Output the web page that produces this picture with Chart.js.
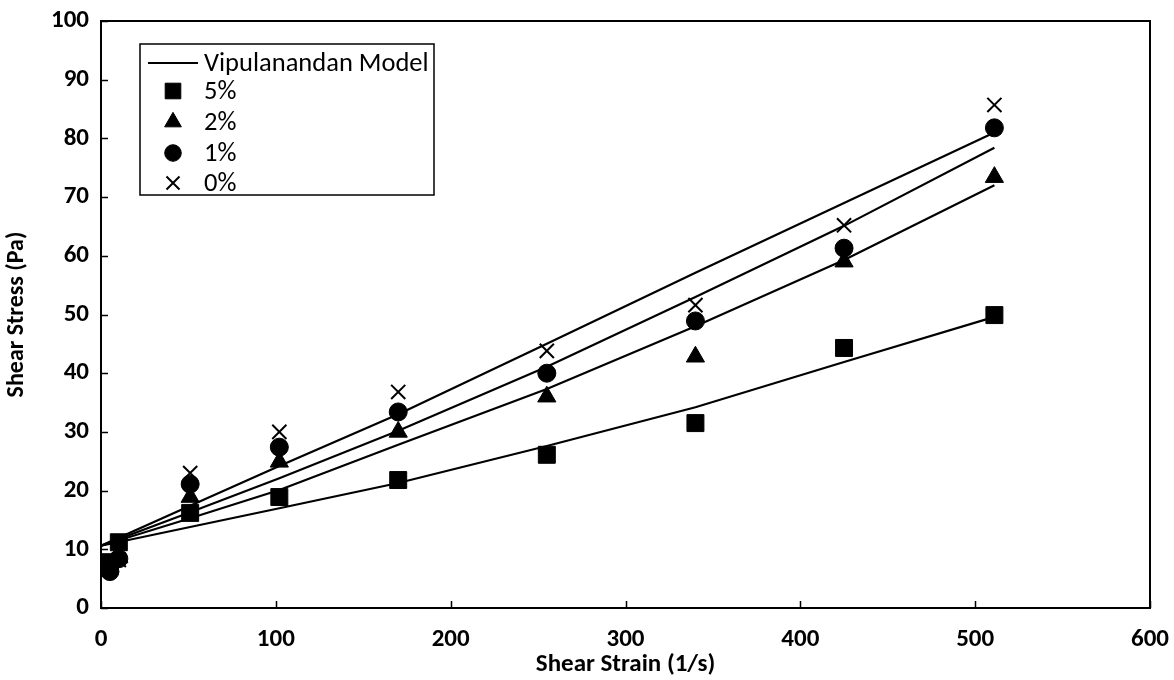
<!DOCTYPE html>
<html>
<head>
<meta charset="utf-8">
<script src="https://cdn.jsdelivr.net/npm/chart.js@4.4.0/dist/chart.umd.min.js"></script>
<style>
  html, body { margin: 0; padding: 0; background: #fff; }
  #wrap { width: 1174px; height: 680px; position: relative; }
</style>
</head>
<body>
<div id="wrap"><canvas id="c" width="1174" height="680"></canvas></div>
<script>
// ---- data ----
const strain = [5.1, 10.2, 51, 102, 170, 255, 340, 425, 511];
const stress5 = [7.8, 11.2, 16.2, 18.9, 21.8, 26.1, 31.5, 44.3, 49.9];
const stress2 = [7.0, 8.6, 18.9, 24.9, 30.0, 36.0, 42.8, 59.0, 73.4];
const stress1 = [6.2, 8.4, 21.1, 27.4, 33.4, 40.0, 48.9, 61.3, 81.8];
const stress0 = [6.8, 8.2, 23.0, 30.0, 36.8, 43.8, 51.6, 65.2, 85.7];

const modelStrain = [0, 51, 102, 170, 255, 340, 425, 511];
const model0 = [10.6, 17.4, 24.2, 33.0, 45.0, 57.1, 69.0, 81.0];
const model1 = [10.6, 16.3, 22.1, 30.2, 41.1, 53.0, 65.1, 78.4];
const model2 = [10.6, 15.3, 20.1, 27.8, 37.3, 48.0, 59.3, 72.0];
const model5 = [10.6, 13.8, 17.0, 21.3, 27.6, 34.2, 41.9, 49.6];

const xTicks = [0, 100, 200, 300, 400, 500, 600];
const yTicks = [0, 10, 20, 30, 40, 50, 60, 70, 80, 90, 100];

const modelLabel = 'Vipulanandan Model';
const seriesLabels = ['5%', '2%', '1%', '0%'];

const FONT = 'Carlito, Calibri, Lato, "Open Sans", sans-serif';

function pts(xs, ys) { return xs.map((x, i) => ({ x: x, y: ys[i] })); }

function modelDs(ys, label) {
  return {
    label: label, data: pts(modelStrain, ys), showLine: true,
    borderColor: '#000', borderWidth: 2.2, pointRadius: 0, tension: 0, fill: false,
    isModel: true
  };
}
function markDs(ys, label, style, r) {
  return {
    label: label, data: pts(strain, ys), showLine: false,
    pointStyle: style, pointRadius: r, pointHoverRadius: r,
    backgroundColor: '#000', borderColor: '#000',
    pointBorderWidth: style === 'crossRot' ? 2 : 1
  };
}

const datasets = [
  modelDs(model0, modelLabel),
  modelDs(model1, modelLabel),
  modelDs(model2, modelLabel),
  modelDs(model5, modelLabel),
  markDs(stress5, seriesLabels[0], 'rect', 12),
  markDs(stress2, seriesLabels[1], 'triangle', 10.5),
  markDs(stress1, seriesLabels[2], 'circle', 9),
  markDs(stress0, seriesLabels[3], 'crossRot', 10)
];

// inward ticks + frame + legend inside plot
const framePlugin = {
  id: 'frame',
  afterDraw(chart) {
    const ctx = chart.ctx, a = chart.chartArea;
    const xs = chart.scales.x, ys = chart.scales.y;
    ctx.save();
    ctx.strokeStyle = '#000';
    ctx.lineWidth = 2;
    ctx.strokeRect(a.left, a.top, a.right - a.left, a.bottom - a.top);
    ctx.lineWidth = 1.5;
    ctx.beginPath();
    xTicks.forEach(v => {
      const px = Math.round(xs.getPixelForValue(v)) + 0.5;
      ctx.moveTo(px, a.bottom); ctx.lineTo(px, a.bottom - 7);
    });
    yTicks.forEach(v => {
      const py = Math.round(ys.getPixelForValue(v)) + 0.5;
      ctx.moveTo(a.left, py); ctx.lineTo(a.left + 7, py);
    });
    ctx.stroke();

    // legend box
    const bx = a.left + 39, by = a.top + 23, bw = 294, bh = 151;
    ctx.fillStyle = '#fff';
    ctx.fillRect(bx, by, bw, bh);
    ctx.lineWidth = 1.5;
    ctx.strokeRect(bx, by, bw, bh);
    ctx.fillStyle = '#000';
    ctx.font = '26.5px ' + FONT;
    ctx.textBaseline = 'middle';
    ctx.textAlign = 'left';
    const rowY = [by + 19, by + 47, by + 78, by + 109, by + 139];
    ctx.lineWidth = 2;
    ctx.beginPath();
    ctx.moveTo(bx + 8, rowY[0]); ctx.lineTo(bx + 58, rowY[0]);
    ctx.stroke();
    ctx.fillText(modelLabel, bx + 64, rowY[0] + 1);
    const mk = chart.data.datasets.filter(d => !d.isModel);
    mk.forEach((d, i) => {
      const y = rowY[i + 1];
      ctx.lineWidth = d.pointBorderWidth;
      Chart.helpers.drawPoint(ctx, {
        pointStyle: d.pointStyle, radius: d.pointRadius * 0.92, rotation: 0,
        borderWidth: d.pointBorderWidth
      }, bx + 33, y);
      ctx.fillStyle = '#000';
      ctx.fillText(d.label, bx + 64, y + 1);
    });
    ctx.restore();
  }
};

new Chart(document.getElementById('c'), {
  type: 'scatter',
  data: { datasets: datasets },
  options: {
    responsive: false,
    animation: false,
    events: [],
    layout: { padding: { left: 0, right: 24, top: 21, bottom: 0 } },
    plugins: { legend: { display: false }, tooltip: { enabled: false } },
    scales: {
      x: {
        type: 'linear', min: 0, max: 600,
        afterBuildTicks(s) { s.ticks = xTicks.map(v => ({ value: v })); },
        afterFit(s) { s.height = 72; s.paddingLeft = 0; s.paddingRight = 0; },
        grid: { display: false, drawTicks: false },
        border: { display: true, color: '#000', width: 2 },
        ticks: { color: '#000', padding: 17, font: { family: FONT, size: 25, weight: 'bold' } },
        title: { display: true, text: 'Shear Strain (1/s)', color: '#000',
                 padding: { top: 0, bottom: 0 },
                 font: { family: FONT, size: 25, weight: 'bold' } }
      },
      y: {
        type: 'linear', min: 0, max: 100,
        afterBuildTicks(s) { s.ticks = yTicks.map(v => ({ value: v })); },
        afterFit(s) { s.width = 101; s.paddingTop = 0; s.paddingBottom = 0; },
        grid: { display: false, drawTicks: false },
        border: { display: true, color: '#000', width: 2 },
        ticks: { color: '#000', padding: 12, font: { family: FONT, size: 25, weight: 'bold' } },
        title: { display: true, text: 'Shear Stress (Pa)', color: '#000',
                 padding: { top: 3, bottom: 0 },
                 font: { family: FONT, size: 24, weight: 'bold' } }
      }
    }
  },
  plugins: [framePlugin]
});
</script>
</body>
</html>
